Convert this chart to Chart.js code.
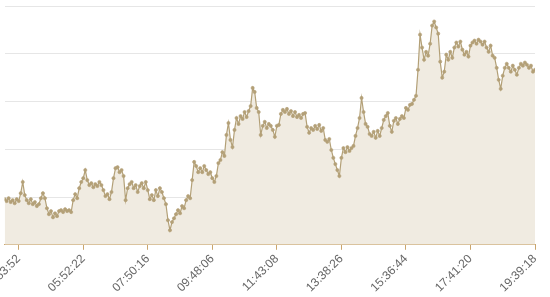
<!DOCTYPE html>
<html>
<head>
<meta charset="utf-8">
<script src="https://cdn.jsdelivr.net/npm/chart.js@4"></script>
<style>
  html, body { margin: 0; padding: 0; background: #fff; overflow: hidden; }
</style>
</head>
<body>
<canvas id="chart" width="550" height="297"></canvas>
<script>
// values per sample (index positions on the x axis)
const values = [
    19.1, 18.3, 19.5, 17.9, 18.7, 17.4, 19.1, 18.3, 21.6, 26.3,
    20.8, 18.7, 17.4, 19.1, 17.0, 17.9, 16.2, 17.0, 19.5, 21.6,
    19.5, 15.3, 12.8, 14.1, 11.5, 13.2, 12.0, 14.1, 14.5, 13.7,
    14.9, 14.1, 14.5, 13.7, 18.7, 21.2, 19.5, 23.7, 26.3, 27.9,
    31.3, 27.1, 25.0, 25.8, 24.1, 25.4, 24.6, 26.3, 25.0, 22.9,
    20.4, 21.2, 19.1, 22.1, 27.9, 32.1, 32.5, 30.4, 31.3, 28.8,
    18.7, 23.7, 25.4, 26.3, 23.7, 25.0, 22.1, 24.6, 25.8, 23.7,
    26.3, 22.9, 19.1, 20.8, 18.7, 22.9, 20.4, 23.7, 22.1, 19.5,
    17.0, 10.3, 6.1, 9.5, 11.1, 12.8, 14.5, 13.2, 16.2, 15.3,
    18.7, 20.4, 19.5, 27.1, 34.7, 33.0, 30.4, 32.1, 30.4, 33.0,
    31.3, 29.6, 30.4, 27.9, 26.3, 28.8, 34.2, 35.5, 38.8, 37.2,
    46.0, 51.0, 43.9, 40.9, 48.1, 53.1, 50.6, 53.9, 52.7, 55.6,
    53.5, 56.0, 58.1, 65.7, 64.0, 57.3, 55.6, 46.0, 49.8, 51.5,
    48.9, 50.6, 49.8, 48.1, 45.2, 49.8, 50.2, 54.8, 56.5, 55.6,
    56.9, 54.8, 56.0, 53.9, 55.6, 53.5, 54.4, 53.1, 54.8, 55.2,
    49.4, 46.9, 48.9, 48.1, 49.8, 48.5, 50.2, 47.7, 48.9, 43.9,
    43.1, 44.3, 39.7, 36.4, 33.8, 31.3, 28.8, 36.4, 40.5, 38.8,
    40.9, 39.3, 40.5, 41.4, 45.6, 48.9, 53.1, 61.5, 55.6, 50.6,
    49.4, 46.4, 45.6, 47.3, 44.8, 47.7, 45.6, 48.9, 52.3, 53.9,
    55.2, 49.8, 47.3, 51.9, 53.1, 50.6, 52.7, 53.9, 53.1, 57.3,
    56.5, 58.6, 59.0, 60.7, 62.4, 73.3, 88.0, 82.6, 77.5, 80.8,
    79.2, 84.2, 91.8, 93.5, 91.0, 88.4, 76.7, 70.0, 72.5, 79.6,
    77.5, 80.8, 78.3, 82.6, 84.7, 83.0, 85.1, 81.7, 79.6, 80.8,
    78.8, 83.4, 84.7, 85.5, 84.2, 85.9, 85.1, 83.8, 85.1, 82.6,
    80.8, 83.4, 79.2, 78.3, 74.1, 69.1, 65.3, 70.8, 74.1, 75.8,
    74.1, 72.5, 75.0, 73.3, 71.2, 74.1, 75.8, 75.0, 76.3, 75.4,
    74.1, 75.0, 72.5, 73.3
];

// labelled ticks on the time axis
const tickLabels = ['03:53:52', '05:52:22', '07:50:16', '09:48:06', '11:43:08', '13:38:26', '15:36:44', '17:41:20', '19:39:18'];
const tickIndex = [7, 39, 71, 103, 135, 167, 199, 231, 263];

const lineColor = '#b3a077';
const fillColor = '#f0ebe1';
const axisColor = '#c9a56e';

Chart.defaults.font.family = "'Liberation Sans', Arial, sans-serif";
Chart.defaults.font.size = 12;
Chart.defaults.color = '#666';

const ctx = document.getElementById('chart').getContext('2d');
new Chart(ctx, {
    type: 'line',
    data: {
        datasets: [{
            data: values.map((v, i) => ({ x: i, y: v })),
            borderColor: lineColor,
            borderWidth: 1.2,
            backgroundColor: fillColor,
            fill: 'origin',
            pointRadius: 1.6,
            pointBorderWidth: 0.6,
            pointBackgroundColor: lineColor,
            pointBorderColor: lineColor,
            tension: 0
        }]
    },
    options: {
        responsive: false,
        animation: false,
        layout: { padding: { top: 6, right: 15, left: 0, bottom: 0 } },
        plugins: { legend: { display: false }, tooltip: { enabled: false } },
        scales: {
            x: {
                type: 'linear',
                min: 0,
                max: values.length - 1,
                afterBuildTicks: scale => {
                    scale.ticks = tickIndex.map(v => ({ value: v }));
                },
                afterFit: scale => {
                    scale.paddingLeft = 0;
                    scale.paddingRight = 0;
                },
                ticks: {
                    autoSkip: false,
                    maxRotation: 45,
                    minRotation: 45,
                    padding: 2,
                    callback: (val, i) => tickLabels[i]
                },
                grid: {
                    display: true,
                    drawOnChartArea: false,
                    drawTicks: true,
                    tickLength: 5,
                    color: axisColor
                },
                border: { display: true, color: axisColor, width: 1 }
            },
            y: {
                min: 0,
                max: 100,
                ticks: { display: false, stepSize: 20 },
                grid: { color: '#e6e6e6', drawTicks: false },
                border: { display: false }
            }
        }
    }
});
</script>
</body>
</html>
